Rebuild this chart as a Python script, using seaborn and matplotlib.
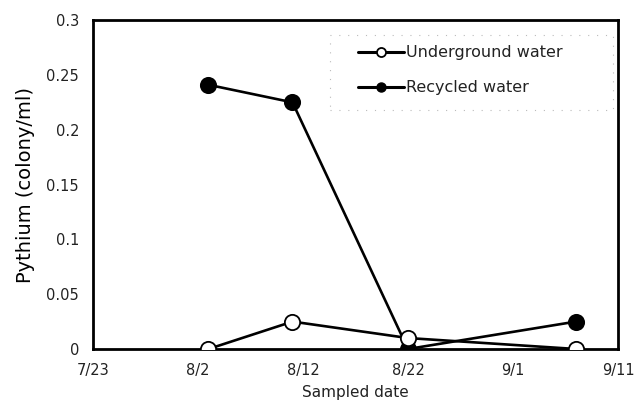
import matplotlib
matplotlib.use("Agg")
import matplotlib.pyplot as plt
from matplotlib.lines import Line2D
from matplotlib.patches import Rectangle
import seaborn as sns
import pandas as pd

# Sampling dates and Pythium counts (colony/ml)
sample_dates = ["2000-08-03", "2000-08-11", "2000-08-22", "2000-09-07"]
underground = [0.0, 0.025, 0.010, 0.0]
recycled = [0.241, 0.225, 0.0, 0.025]

tick_dates = ["2000-07-23", "2000-08-02", "2000-08-12", "2000-08-22", "2000-09-01", "2000-09-11"]
tick_labels = ["7/23", "8/2", "8/12", "8/22", "9/1", "9/11"]
y_ticks = [0, 0.05, 0.1, 0.15, 0.2, 0.25, 0.3]
y_labels = ["0", "0.05", "0.1", "0.15", "0.2", "0.25", "0.3"]

dates = pd.to_datetime(sample_dates)
df = pd.DataFrame({
    "date": list(dates) * 2,
    "value": underground + recycled,
    "source": ["Underground water"] * 4 + ["Recycled water"] * 4,
})

sns.set_theme(style="white")
plt.rcParams["font.family"] = ["DejaVu Sans"]

fig = plt.figure(figsize=(6.44, 4.03), dpi=100)
ax = fig.add_axes([0.1444, 0.134, 0.8152, 0.816])

common = dict(color="black", linewidth=1.9, markersize=11,
              markeredgecolor="black", markeredgewidth=1.3, legend=False)
sns.lineplot(data=df[df.source == "Recycled water"], x="date", y="value",
             marker="o", markerfacecolor="black", ax=ax, zorder=3, **common)
sns.lineplot(data=df[df.source == "Underground water"], x="date", y="value",
             marker="o", markerfacecolor="white", ax=ax, zorder=4, **common)

ax.set_xlim(pd.Timestamp(tick_dates[0]), pd.Timestamp(tick_dates[-1]))
ax.set_ylim(0, 0.3)
ax.set_xticks(pd.to_datetime(tick_dates))
ax.set_xticklabels(tick_labels)
ax.set_yticks(y_ticks)
ax.set_yticklabels(y_labels)
ax.tick_params(axis="both", direction="in", length=3, width=1.2, color="black",
               labelsize=10.5, labelcolor="#222222")
ax.tick_params(axis="y", pad=10)
ax.tick_params(axis="x", pad=10)

for s in ax.spines.values():
    s.set_color("black")
    s.set_linewidth(2.0)

ax.set_ylabel("Pythium (colony/ml)", fontsize=14, labelpad=8, color="black")
ax.set_xlabel("Sampled date", fontsize=11, labelpad=5, color="#222222")

# Dotted legend box
ax.add_patch(Rectangle((0.451, 0.726), 0.539, 0.228, transform=ax.transAxes,
                       fill=False, edgecolor="#bbbbbb", linewidth=0.8,
                       linestyle=(0, (1, 7)), zorder=5))

handles = [
    Line2D([], [], color="black", linewidth=2.2, marker="o", markersize=6.5,
           markerfacecolor="white", markeredgecolor="black", markeredgewidth=1.3),
    Line2D([], [], color="black", linewidth=2.2, marker="o", markersize=6.5,
           markerfacecolor="black", markeredgecolor="black"),
]
leg = ax.legend(handles, ["Underground water", "Recycled water"],
                loc="upper left", bbox_to_anchor=(0.505, 0.923),
                fontsize=11.5, frameon=False,
                handlelength=2.9, handletextpad=0.1, labelspacing=1.25,
                borderpad=0, borderaxespad=0)
for t in leg.get_texts():
    t.set_color("#222222")

fig.savefig("out.png", dpi=100)
